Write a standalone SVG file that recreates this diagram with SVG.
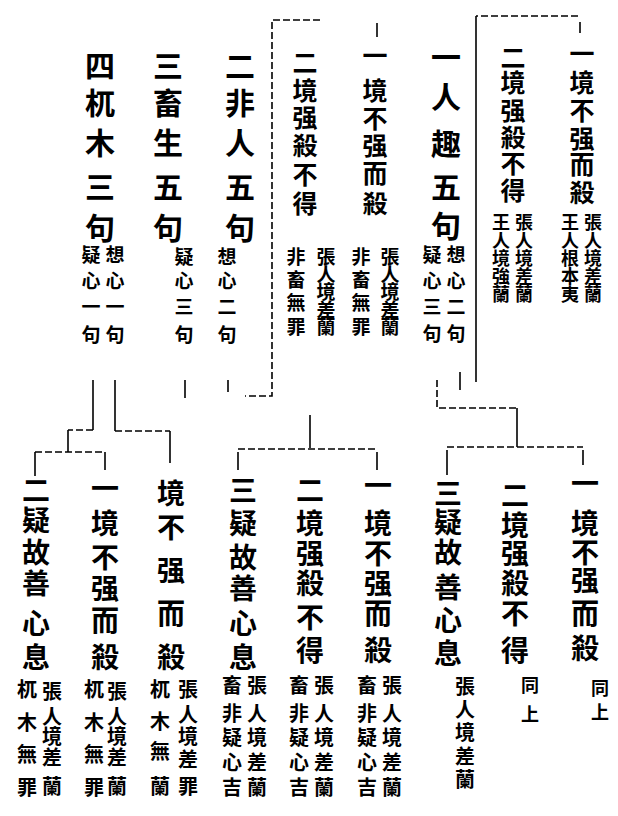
<svg xmlns="http://www.w3.org/2000/svg" width="618" height="816" viewBox="0 0 618 816">
<style>
text{font-family:"Noto Sans CJK TC","Noto Sans CJK SC",sans-serif;font-weight:700;fill:#000;text-anchor:middle}
.t{font-size:25px}
.L{font-size:30px}
.B{font-size:28px}
.s{font-size:18px}
.s2{font-size:19px}
.m{font-size:19px}
.n{font-size:20px}
.c{stroke:#000;stroke-width:1.6;fill:none}
.d{stroke-dasharray:7 3}
</style>
<rect width="618" height="816" fill="#fff"/>
<g id="connectors">
<path class="c d" d="M320,20 H272 V396 H245"/>
<path class="c" d="M377,23 V37"/>
<path class="c d" d="M578,16 H476"/>
<path class="c" d="M476,16 V382"/>
<path class="c" d="M580,22 V33"/>
<path class="c" d="M460,372 V390"/>
<path class="c d" d="M437,380 V408 H517"/>
<path class="c" d="M517,408 V447"/>
<path class="c d" d="M447,447 H583"/>
<path class="c" d="M447,450 V475 M583,450 V465"/>
<path class="c" d="M310,415 V448"/>
<path class="c d" d="M238,449 H377"/>
<path class="c" d="M238,452 V470 M377,452 V470"/>
<path class="c" d="M93,380 V430"/>
<path class="c d" d="M93,430 H68"/>
<path class="c" d="M68,430 V452"/>
<path class="c d" d="M35,452 H105"/>
<path class="c" d="M35,452 V476 M105,452 V470"/>
<path class="c" d="M115,380 V431"/>
<path class="c d" d="M115,431 H170"/>
<path class="c" d="M170,431 V463"/>
<path class="c" d="M185,380 V398 M228,380 V392"/>
</g>
<g id="top-1">
<text class="t" x="582 582 582 582 582 582" y="62.5 91.5 119.5 147.5 173.5 201.5">一境不强而殺</text>
<text class="s" x="593 593 593 593 593" y="228.5 246.5 264.5 282.5 300.5">張人境差蘭</text>
<text class="s" x="570 570 570 570 570" y="228.5 246.5 264.5 282.5 300.5">王人根本夷</text>
</g>
<g id="top-2">
<text class="t" x="513 513 513 513 513 513" y="66.5 91.5 119.5 146.5 172.5 199.5">二境强殺不得</text>
<text class="s" x="524 524 524 524 524" y="228.5 246.5 264.5 282.5 300.5">張人境差蘭</text>
<text class="s" x="501 501 501 501 501" y="228.5 246.5 264.5 282.5 300.5">王人境強蘭</text>
</g>
<g id="top-3">
<text class="L" x="446 446 446 446 446" y="68.4 108.4 155.4 198.4 237.4">一人趣五句</text>
<text class="m" x="456 456 456 456" y="262 288 314 341">想心二句</text>
<text class="m" x="432 432 432 432" y="262 288 314 341">疑心三句</text>
</g>
<g id="top-4">
<text class="t" x="375 375 375 375 375 375" y="64.5 99.5 127.5 154.5 182.5 212.5">一境不强而殺</text>
<text class="s2" x="390 390 390 390 390" y="264 281.5 299 316.5 334">張人境差蘭</text>
<text class="s2" x="361 361 361 361" y="264 287 310 334">非畜無罪</text>
</g>
<g id="top-5">
<text class="t" x="305 305 305 305 305 305" y="71.5 99.5 126.5 154.5 183.5 212.5">二境强殺不得</text>
<text class="s2" x="326 326 326 326 326" y="264 281.5 299 316.5 334">張人境差蘭</text>
<text class="s2" x="296 296 296 296" y="264 287 310 334">非畜無罪</text>
</g>
<g id="top-6">
<text class="L" x="240 240 240 240 240" y="77.4 114.4 154.4 198.4 239.4">二非人五句</text>
<text class="m" x="227 227 227 227" y="264 288 314 342">想心二句</text>
</g>
<g id="top-7">
<text class="L" x="168 168 168 168 168" y="77.4 114.4 154.4 198.4 239.4">三畜生五句</text>
<text class="m" x="184 184 184 184" y="264 288 314 342">疑心三句</text>
</g>
<g id="top-8">
<text class="L" x="100 100 100 100 100" y="77.4 114.4 154.4 198.4 239.4">四杌木三句</text>
<text class="m" x="115 115 115 115" y="262 288 314 342">想心一句</text>
<text class="m" x="91 91 91 91" y="262 288 314 342">疑心一句</text>
</g>
<g id="bottom-1">
<text class="B" x="585 585 585 585 585 585" y="494 534 563 591 624 659">一境不强而殺</text>
<text class="s" x="600 600" y="695 719">同上</text>
</g>
<g id="bottom-2">
<text class="B" x="515 515 515 515 515 515" y="506 536 564 594 624 661">二境强殺不得</text>
<text class="s" x="530 530" y="692 721">同上</text>
</g>
<g id="bottom-3">
<text class="B" x="448 448 448 448 448 448" y="504 533 563 598 631 664">三疑故善心息</text>
<text class="n" x="465 465 465 465 465" y="694 717 740 764 787">張人境差蘭</text>
</g>
<g id="bottom-4">
<text class="B" x="378 378 378 378 378 378" y="496 534 564 594 624 661">一境不强而殺</text>
<text class="n" x="392 392 392 392 392" y="693 721 745 770 795">張人境差蘭</text>
<text class="n" x="367 367 367 367 367" y="693 721 745 770 795">畜非疑心吉</text>
</g>
<g id="bottom-5">
<text class="B" x="310 310 310 310 310 310" y="501 534 564 594 628 661">二境强殺不得</text>
<text class="n" x="324 324 324 324 324" y="693 721 745 770 795">張人境差蘭</text>
<text class="n" x="299 299 299 299 299" y="693 721 745 770 795">畜非疑心吉</text>
</g>
<g id="bottom-6">
<text class="B" x="243 243 243 243 243 243" y="501 534 568 599 634 668">三疑故善心息</text>
<text class="n" x="257 257 257 257 257" y="693 721 745 770 795">張人境差蘭</text>
<text class="n" x="232 232 232 232 232" y="693 721 745 770 795">畜非疑心吉</text>
</g>
<g id="bottom-7">
<text class="B" x="171 171 171 171 171" y="504 538 581 624 668">境不强而殺</text>
<text class="n" x="188 188 188 188 188" y="697 722 744 767 794">張人境差罪</text>
<text class="n" x="160 160 160 160" y="697 729 759 794">杌木無蘭</text>
</g>
<g id="bottom-8">
<text class="B" x="105 105 105 105 105 105" y="499 534 568 599 631 668">一境不强而殺</text>
<text class="n" x="117 117 117 117 117" y="699 724 744 765 794">張人境差蘭</text>
<text class="n" x="94 94 94 94" y="697 730 762 795">杌木無罪</text>
</g>
<g id="bottom-9">
<text class="B" x="36 36 36 36 36 36" y="501 531 563 594 634 668">二疑故善心息</text>
<text class="n" x="52 52 52 52 52" y="699 724 744 765 794">張人境差蘭</text>
<text class="n" x="27 27 27 27" y="697 730 762 795">杌木無罪</text>
</g>
</svg>
